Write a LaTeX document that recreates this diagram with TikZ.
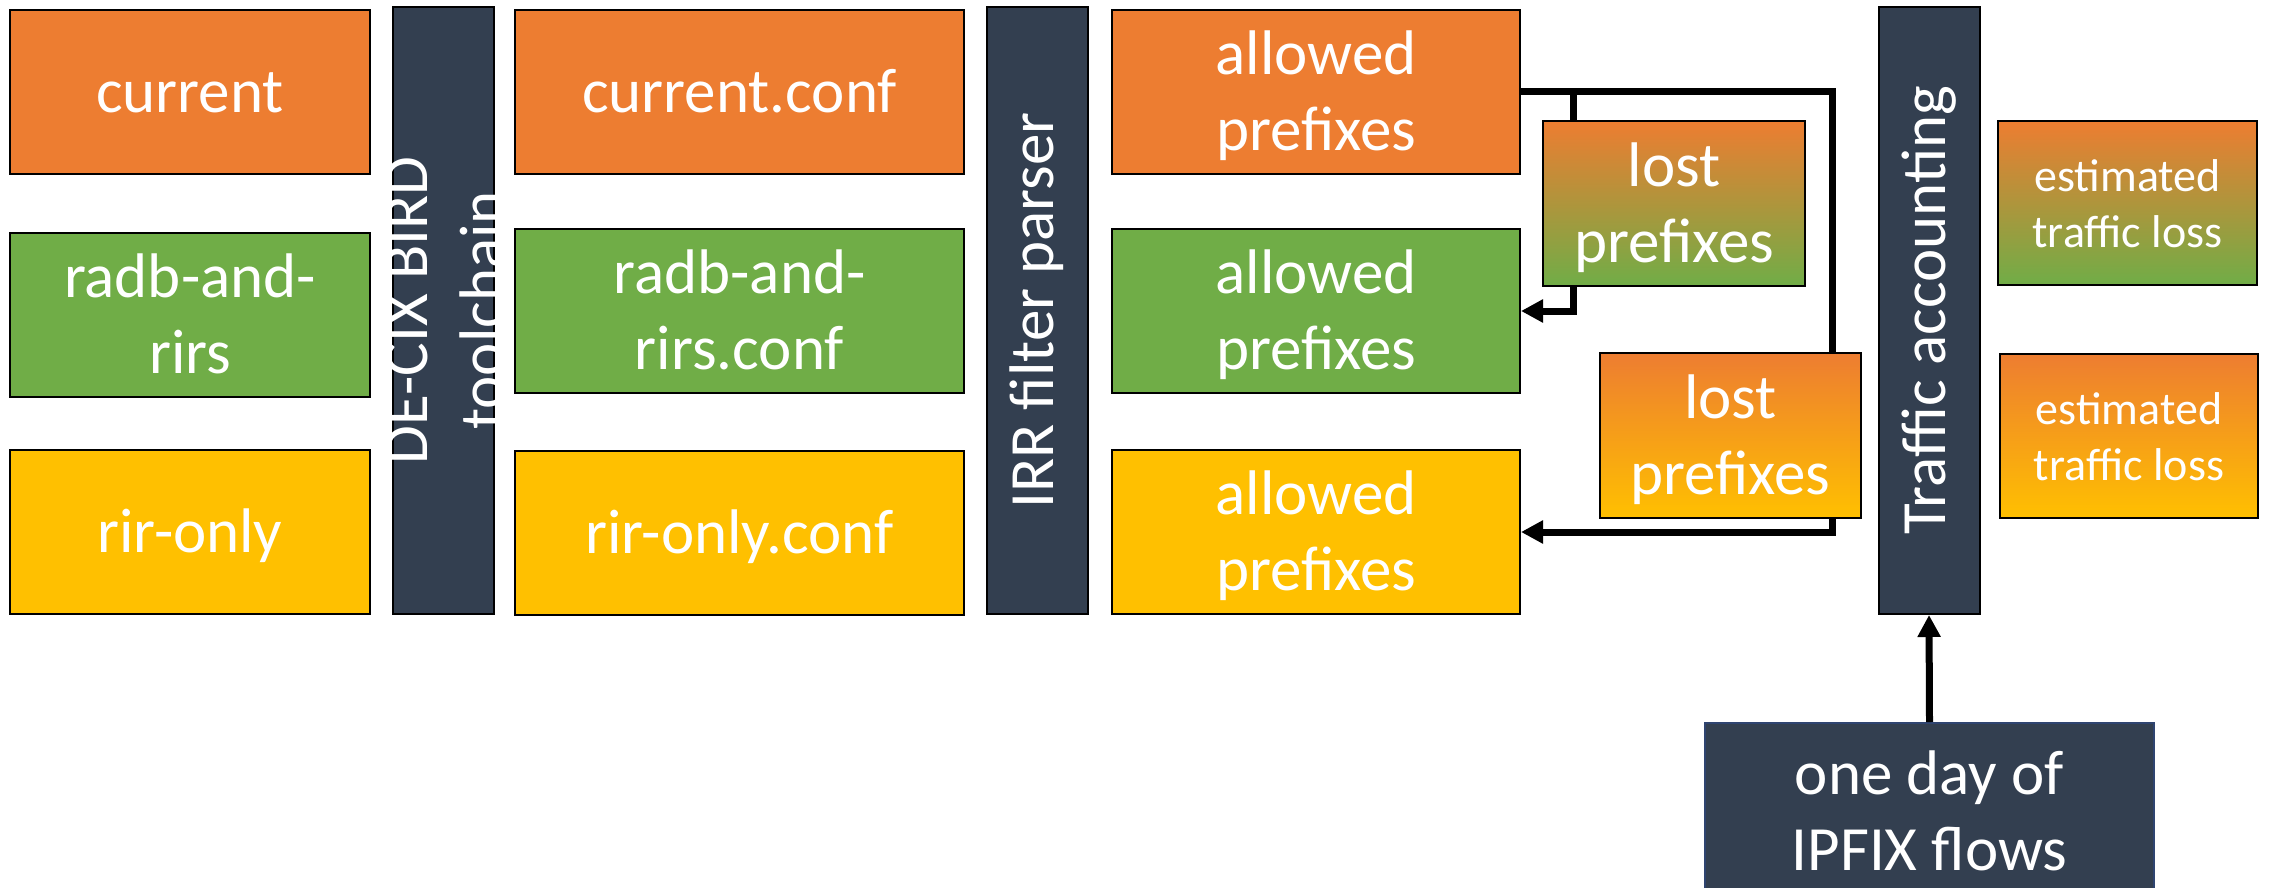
\documentclass[tikz,border=0pt]{standalone}
\usepackage{fontspec}
\setmainfont{Carlito}
\usetikzlibrary{arrows.meta}
\definecolor{cOrange}{HTML}{ED7D31}
\definecolor{cGreen}{HTML}{70AD47}
\definecolor{cYellow}{HTML}{FFC000}
\definecolor{cDark}{HTML}{333F50}
\definecolor{cNavy}{HTML}{2F4470}
\newcommand{\bigstrut}{\rule[-17pt]{0pt}{75pt}}
\newcommand{\smallstrut}{\rule[-10pt]{0pt}{53pt}}
\begin{document}
\begin{tikzpicture}[x=1pt,y=-1pt,
  box/.style={draw=black, line width=2pt, inner sep=0pt, text=white, align=center,
    font=\fontsize{63}{76}\selectfont},
  orangebox/.style={box, fill=cOrange},
  greenbox/.style={box, fill=cGreen},
  yellowbox/.style={box, fill=cYellow},
  ogbox/.style={box, top color=cOrange, bottom color=cGreen},
  oybox/.style={box, top color=cOrange, bottom color=cYellow},
  barbox/.style={box, fill=cDark, minimum width=101pt, minimum height=607pt},
  bartext/.style={text=white, align=center, rotate=90, inner sep=0pt,
    font=\fontsize{63}{76}\selectfont},
  estfont/.style={font=\fontsize{46}{56}\selectfont},
  conn/.style={line width=7pt, line join=miter},
  tip/.style={-{Triangle[length=22pt,width=22pt]}}
]
\clip (0,0) rectangle (2269,888);
\fill[white] (0,0) rectangle (2269,888);

% column 1
\node[orangebox, minimum width=360pt, minimum height=164pt] (cur) at (190,92) {current\bigstrut};
\node[greenbox, minimum width=360pt, minimum height=164pt] (radb) at (190,315) {radb-and-\bigstrut\\rirs\bigstrut};
\node[yellowbox, minimum width=360pt, minimum height=164pt] (rir) at (190,532) {rir-only\bigstrut};

% DE-CIX bar
\node[barbox] (decix) at (443,310.5) {};
\node[bartext] (decixtext) at (445,310.5) {DE-CIX BIRD\\toolchain};

% column 2
\node[orangebox, minimum width=449pt, minimum height=164pt] (curconf) at (739.5,92) {current.conf\bigstrut};
\node[greenbox, minimum width=449pt, minimum height=164pt] (radbconf) at (739.5,311) {radb-and-\bigstrut\\rirs.conf\bigstrut};
\node[yellowbox, minimum width=449pt, minimum height=164pt] (rirconf) at (739.5,533) {rir-only.conf\bigstrut};

% IRR bar
\node[barbox] (irr) at (1037,310.5) {};
\node[bartext] (irrtext) at (1037,310.5) {IRR filter parser};

% column 3
\node[orangebox, minimum width=408pt, minimum height=164pt] (al1) at (1316,92) {allowed\bigstrut\\prefixes\bigstrut};
\node[greenbox, minimum width=408pt, minimum height=164pt] (al2) at (1316,311) {allowed\bigstrut\\prefixes\bigstrut};
\node[yellowbox, minimum width=408pt, minimum height=164pt] (al3) at (1316,532) {allowed\bigstrut\\prefixes\bigstrut};

% lost prefixes
\node[ogbox, minimum width=262pt, minimum height=165pt] (lost1) at (1674,203.5) {lost\bigstrut\\prefixes\bigstrut};
\node[oybox, minimum width=261pt, minimum height=165pt] (lost2) at (1730.5,435.5) {lost\bigstrut\\prefixes\bigstrut};

% Traffic accounting bar
\node[barbox] (traffic) at (1929,310.5) {};
\node[bartext] (traffictext) at (1929,310.5) {Traffic accounting};

% estimated traffic loss
\node[ogbox, estfont, minimum width=259pt, minimum height=164pt] (est1) at (2127.5,203) {estimated\smallstrut\\traffic loss\smallstrut};
\node[oybox, estfont, minimum width=258pt, minimum height=164pt] (est2) at (2129,436) {estimated\smallstrut\\traffic loss\smallstrut};

% IPFIX
\node[box, draw=cNavy, fill=cDark, minimum width=449pt, minimum height=178pt] (ipfix) at (1929.5,812) {one day of\bigstrut\\IPFIX flows\bigstrut};

% connectors
\coordinate (c1) at (1573,92);
\coordinate (c2) at (1832,92);
\draw[conn] (al1.east) -- (c2) -- (c2 |- lost2.north);
\draw[conn] (c1) -- (c1 |- lost1.north);
\draw[conn, tip] (c1 |- lost1.south) |- (al2.east);
\draw[conn, tip] (c2 |- lost2.south) |- (al3.east);
\draw[conn, tip] (ipfix.north) -- (traffic.south);
\end{tikzpicture}
\end{document}
